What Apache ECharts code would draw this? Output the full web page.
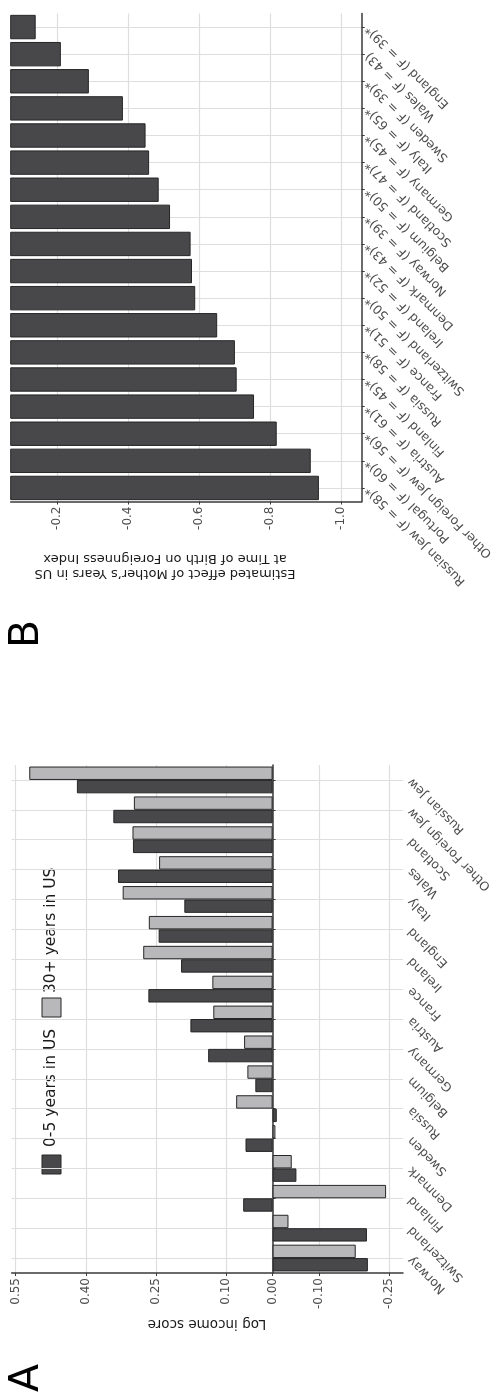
<!DOCTYPE html>
<html><head><meta charset="utf-8">
<script src="https://cdn.jsdelivr.net/npm/echarts@6/dist/echarts.min.js"></script>
<style>html,body{margin:0;padding:0;background:#fff}#c{width:498px;height:1396px}</style>
</head><body><div id="c"></div>
<script>
// Panel A: log income score by country (bottom to top)
const categoriesA = ['Norway','Switzerland','Finland','Denmark','Sweden','Russia','Belgium','Germany','Austria','France','Ireland','England','Italy','Wales','Scotland','Other Foreign Jew','Russian Jew'];
const shortStayA = [-0.204,-0.202,0.063,-0.051,0.058,-0.009,0.037,0.138,0.176,0.266,0.196,0.244,0.189,0.331,0.299,0.341,0.419];
const longStayA  = [-0.178,-0.034,-0.243,-0.041,-0.006,0.078,0.054,0.061,0.127,0.129,0.277,0.265,0.321,0.243,0.300,0.297,0.521];
const ticksA = [0.55,0.40,0.25,0.10,0.00,-0.10,-0.25];
const seriesNamesA = ['0-5 years in US','30+ years in US'];

// Panel B: estimated effect (top to bottom)
const countriesB = ['England','Wales','Sweden','Italy','Germany','Scotland','Belgium','Norway','Denmark','Ireland','Switzerland','France','Russia','Finland','Austria','Other Foreign Jew','Portugal','Russian Jew'];
const fStatsB = [39,43,39,65,45,47,50,39,43,52,50,51,58,45,61,56,60,58];
const signifB = [true,false,true,true,true,true,true,true,true,true,true,true,true,true,true,true,true,true];
const effectB = [-0.139,-0.210,-0.289,-0.385,-0.449,-0.459,-0.486,-0.518,-0.576,-0.580,-0.589,-0.651,-0.701,-0.706,-0.755,-0.819,-0.915,-0.938];
const ticksB = [-0.2,-0.4,-0.6,-0.8,-1.0];

const labelsB = countriesB.map((c,i)=> c + ' (F = ' + fStatsB[i] + ')' + (signifB[i] ? '*' : ''));

const FONT = 'DejaVu Sans';
const DARK = '#48484a', LIGHT = '#b8b8bb', EDGE = '#262626';
const GRID = '#dedede', AXIS = '#3a3a3a', TXT = '#4d4d4d';

const minA = -0.2792, maxA = 0.5586, minB = -1.0587, maxB = -0.0685;

function valueAxis(gi, min, max, ticks, digits){
  return {
    gridIndex: gi, type: 'value', min: min, max: max, inverse: true,
    axisLine: {show: true, lineStyle: {color: AXIS, width: 1.5}},
    axisTick: {show: true, length: 3, customValues: ticks, lineStyle: {color: AXIS, width: 1}},
    axisLabel: {customValues: ticks, rotate: 90, margin: 5, color: TXT, fontSize: 12, fontFamily: FONT,
      formatter: v => v.toFixed(digits)},
    splitLine: {show: true, lineStyle: {color: GRID, width: 1.2}}
  };
}
function catAxis(gi, data, inverse){
  return {
    gridIndex: gi, type: 'category', data: data, position: 'right', inverse: inverse,
    axisLine: {show: true, lineStyle: {color: AXIS, width: 1.5}},
    axisTick: {show: true, alignWithLabel: true, length: 3, lineStyle: {color: AXIS, width: 1}},
    axisLabel: {show: false},
    splitLine: {show: true, alignWithLabel: true, interval: 0, lineStyle: {color: GRID, width: 1.2}}
  };
}
// category tick labels, written upside-down along the diagonal (as in the rotated figure)
function labelSeries(ai, cats, xAnchorValue, gap){
  return {
    type: 'custom', xAxisIndex: ai, yAxisIndex: ai, clip: false, silent: true, z: 10,
    data: cats.map((c, i) => [xAnchorValue, i]),
    encode: {x: 0, y: 1},
    renderItem: function(params, api){
      const pt = api.coord([api.value(0), api.value(1)]);
      const cs = params.coordSys;
      return {
        type: 'text', x: cs.x + cs.width + gap, y: pt[1], rotation: 3 * Math.PI / 4,
        style: {text: cats[params.dataIndex], fontSize: 12.5, fontFamily: FONT, fill: TXT,
          align: 'right', verticalAlign: 'middle', textAlign: 'right', textVerticalAlign: 'middle'}
      };
    }
  };
}

const chart = echarts.init(document.getElementById('c'), null, {renderer: 'canvas'});
chart.setOption({
  animation: false,
  backgroundColor: '#ffffff',
  grid: [
    {left: 11.7, top: 765, width: 391.3, height: 508, containLabel: false, outerBoundsMode: 'none'},
    {left: 10.7, top: 13.5, width: 351, height: 488, containLabel: false, outerBoundsMode: 'none'}
  ],
  xAxis: [
    valueAxis(0, minA, maxA, ticksA, 2),
    valueAxis(1, minB, maxB, ticksB, 1)
  ],
  yAxis: [
    catAxis(0, categoriesA, false),
    catAxis(1, labelsB, true)
  ],
  series: [
    {type: 'bar', name: seriesNamesA[1], xAxisIndex: 0, yAxisIndex: 0, data: longStayA,
     barWidth: 13.4, barGap: '0%', clip: true,
     itemStyle: {color: LIGHT, borderColor: EDGE, borderWidth: 1}},
    {type: 'bar', name: seriesNamesA[0], xAxisIndex: 0, yAxisIndex: 0, data: shortStayA,
     barWidth: 13.4, barGap: '0%', clip: true,
     itemStyle: {color: DARK, borderColor: EDGE, borderWidth: 1}},
    {type: 'bar', name: 'Estimated effect', xAxisIndex: 1, yAxisIndex: 1, data: effectB,
     barWidth: 24.4, clip: true,
     itemStyle: {color: DARK, borderColor: EDGE, borderWidth: 1}},
    labelSeries(0, categoriesA, minA, 7),
    labelSeries(1, labelsB, minB, 6)
  ],
  graphic: [
    // legend of panel A
    {type: 'rect', shape: {x: 42, y: 1155, width: 19, height: 19}, style: {fill: DARK, stroke: EDGE, lineWidth: 1}},
    {type: 'text', x: 51, y: 1147, rotation: Math.PI/2,
     style: {text: seriesNamesA[0], fontSize: 15.5, fontFamily: FONT, fill: '#1a1a1a', align: 'left', verticalAlign: 'middle', textAlign: 'left', textVerticalAlign: 'middle'}},
    {type: 'rect', shape: {x: 42, y: 998, width: 19, height: 19}, style: {fill: LIGHT, stroke: EDGE, lineWidth: 1}},
    {type: 'text', x: 51, y: 993, rotation: Math.PI/2,
     style: {text: seriesNamesA[1], fontSize: 15.5, fontFamily: FONT, fill: '#1a1a1a', align: 'left', verticalAlign: 'middle', textAlign: 'left', textVerticalAlign: 'middle'}},
    // axis titles
    {type: 'text', x: 207, y: 1323, rotation: Math.PI,
     style: {text: 'Log income score', fontSize: 13.5, fontFamily: FONT, fill: '#1a1a1a', align: 'center', verticalAlign: 'middle', textAlign: 'center', textVerticalAlign: 'middle'}},
    {type: 'text', x: 165, y: 566, rotation: Math.PI,
     style: {text: 'Estimated effect of Mother\u2019s Years in US\nat Time of Birth on Foreignness Index', fontSize: 13, lineHeight: 15, fontFamily: FONT, fill: '#1a1a1a', align: 'center', verticalAlign: 'middle', textAlign: 'center', textVerticalAlign: 'middle'}},
    // panel letters
    {type: 'text', x: 27, y: 1378, rotation: Math.PI/2,
     style: {text: 'A', fontSize: 41, fontFamily: FONT, fill: '#000', align: 'center', verticalAlign: 'middle', textAlign: 'center', textVerticalAlign: 'middle'}},
    {type: 'text', x: 27, y: 634, rotation: Math.PI/2,
     style: {text: 'B', fontSize: 41, fontFamily: FONT, fill: '#000', align: 'center', verticalAlign: 'middle', textAlign: 'center', textVerticalAlign: 'middle'}}
  ]
});
</script>
</body></html>
